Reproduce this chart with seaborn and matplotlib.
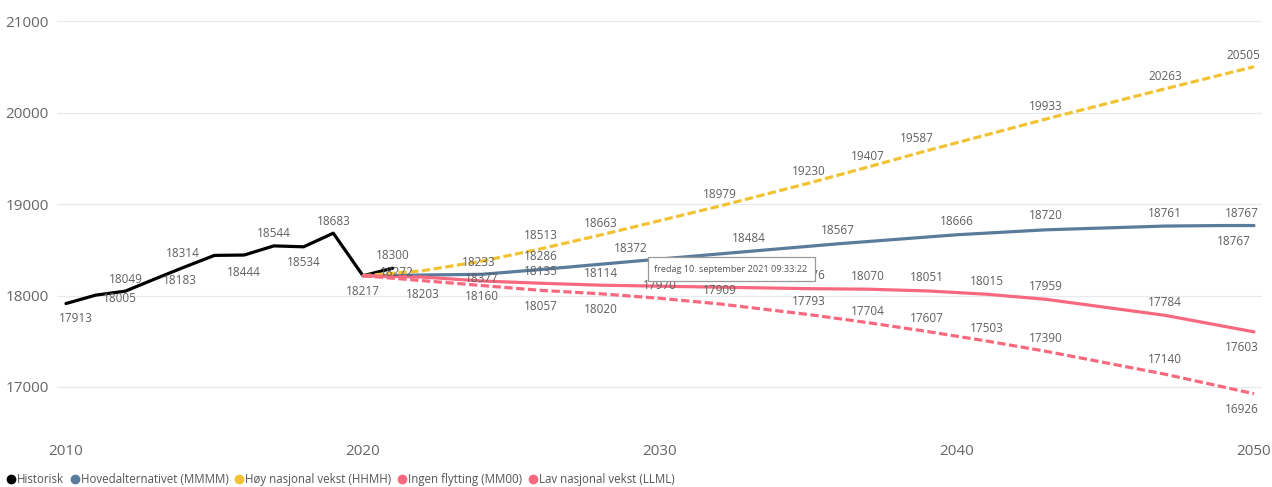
import numpy as np
import pandas as pd
import matplotlib.pyplot as plt
import seaborn as sns
from matplotlib.lines import Line2D
from matplotlib.patches import Rectangle

# Historic values and the four projection alternatives (labelled points only)
hist_years = [2010, 2011, 2012, 2013, 2014, 2015, 2016, 2017, 2018, 2019, 2020, 2021]
hist_vals = [17913, 18005, 18049, 18183, 18314, 18440, 18444, 18544, 18534, 18683, 18217, 18300]

mmmm_years = [2020, 2024, 2026, 2029, 2033, 2036, 2040, 2043, 2047, 2049, 2050]
mmmm_vals = [18217, 18233, 18286, 18372, 18484, 18567, 18666, 18720, 18761, 18767, 18767]

hhmh_years = [2020, 2022, 2024, 2026, 2028, 2032, 2035, 2037, 2039, 2043, 2047, 2050]
hhmh_vals = [18217, 18272, 18377, 18513, 18663, 18979, 19230, 19407, 19587, 19933, 20263, 20505]

mm00_years = [2020, 2022, 2024, 2026, 2028, 2035, 2037, 2039, 2041, 2043, 2047, 2050]
mm00_vals = [18217, 18203, 18160, 18135, 18114, 18076, 18070, 18051, 18015, 17959, 17784, 17603]

llml_years = [2020, 2026, 2028, 2030, 2032, 2035, 2037, 2039, 2041, 2043, 2047, 2050]
llml_vals = [18217, 18057, 18020, 17970, 17909, 17793, 17704, 17607, 17503, 17390, 17140, 16926]

series_names = ['Historisk', 'Hovedalternativet (MMMM)', 'Høy nasjonal vekst (HHMH)',
                'Ingen flytting (MM00)', 'Lav nasjonal vekst (LLML)']
colors = ['#000000', '#5A7B9C', '#F2C233', '#F8687E', '#F8687E']
tooltip_text = 'fredag 10. september 2021 09:33:22'

# label offsets in pixels (dx, dy), only for points that carry a label
label_offsets = {
    'Historisk': {2010: (10, -15), 2011: (24, -3), 2012: (0, 12), 2013: (25, -2), 2014: (-2, 13),
                  2016: (0, -17), 2017: (0, 12), 2018: (0, -16), 2019: (0, 12), 2020: (0, -16), 2021: (0, 13)},
    'Hovedalternativet (MMMM)': {2024: (-3, 12), 2026: (0, 13), 2029: (0, 13), 2033: (0, 13), 2036: (0, 13),
                                 2040: (0, 13), 2043: (0, 14), 2047: (0, 13), 2049: (10, -16), 2050: (-12, 12)},
    'Høy nasjonal vekst (HHMH)': {2022: (-26, -2), 2024: (0, -17), 2026: (0, 13), 2028: (0, 12), 2032: (0, 12),
                                  2035: (0, 12), 2037: (0, 11), 2039: (-10, 12), 2043: (0, 12), 2047: (0, 12),
                                  2050: (-11, 11)},
    'Ingen flytting (MM00)': {2022: (0, -17), 2024: (0, -16), 2026: (0, 12), 2028: (0, 12), 2035: (0, 13),
                              2037: (0, 13), 2039: (0, 13), 2041: (0, 13), 2043: (0, 13), 2047: (0, 13),
                              2050: (-12, -16)},
    'Lav nasjonal vekst (LLML)': {2026: (0, -16), 2028: (0, -16), 2030: (0, 13), 2032: (0, 13), 2035: (0, 13),
                                  2037: (0, 11), 2039: (0, 13), 2041: (0, 13), 2043: (0, 13), 2047: (0, 15),
                                  2050: (-12, -16)},
}

all_years = [hist_years, mmmm_years, hhmh_years, mm00_years, llml_years]
all_vals = [hist_vals, mmmm_vals, hhmh_vals, mm00_vals, llml_vals]

frames = []
for name, yrs, vals in zip(series_names, all_years, all_vals):
    frames.append(pd.DataFrame({'År': yrs, 'Verdi': vals, 'Serie': name}))
df = pd.concat(frames, ignore_index=True)

sns.set_theme(style='white')
plt.rcParams['font.family'] = ['Open Sans', 'DejaVu Sans']

W, H = 1272, 487
fig = plt.figure(figsize=(W / 100, H / 100), dpi=100)
ax = fig.add_axes([57 / W, 1 - 430 / H, (1262 - 57) / W, (430 - 15) / H])

palette = dict(zip(series_names, colors))
dashes = {series_names[0]: '', series_names[1]: '', series_names[2]: (2.6, 1.1),
          series_names[3]: '', series_names[4]: (2.6, 1.1)}

sns.lineplot(data=df, x='År', y='Verdi', hue='Serie', style='Serie', palette=palette,
             dashes=dashes, hue_order=series_names, style_order=series_names,
             estimator=None, linewidth=2.3, legend=False, ax=ax)

# data labels
for name, yrs, vals in zip(series_names, all_years, all_vals):
    offs = label_offsets[name]
    for yr, v in zip(yrs, vals):
        if yr in offs:
            dx, dy = offs[yr]
            ax.annotate(f'{v}', (yr, v), xytext=(dx, dy), textcoords='offset pixels',
                        ha='center', va='center', fontsize=8.5, color='#5F5F5F')

ax.set_xlim(2010 - 9 / 29.7, 2050 + 8 / 29.7)
ax.set_ylim(16529, 21071)
ax.set_xticks([2010, 2020, 2030, 2040, 2050])
ax.set_yticks([17000, 18000, 19000, 20000, 21000])
ax.set_xlabel('')
ax.set_ylabel('')
ax.grid(axis='y', color='#E6E9EE', linewidth=0.9)
ax.grid(axis='x', visible=False)
for s in ax.spines.values():
    s.set_visible(False)
ax.tick_params(axis='both', length=0, labelsize=11, labelcolor='#666666')
ax.tick_params(axis='y', pad=6)
ax.tick_params(axis='x', pad=10)

# tooltip box
fig.add_artist(Rectangle((648 / W, 1 - 281 / H), 167 / W, 24 / H, transform=fig.transFigure,
                         facecolor='white', edgecolor='#9A9A9A', linewidth=0.9, zorder=10))
fig.text(731 / W, 1 - 269 / H, tooltip_text, ha='center', va='center', fontsize=6.6,
         color='#555555', zorder=11)

# legend
handles = [Line2D([], [], marker='o', linestyle='None', color=c, markersize=6) for c in colors]
fig.legend(handles, series_names, loc='lower left', bbox_to_anchor=(-0.003, -0.017), ncol=5,
           frameon=False, fontsize=8.3, handletextpad=0.0, columnspacing=0.45, handlelength=1.0,
           borderpad=0.3, labelcolor='#555555')

fig.savefig('out.png', dpi=100)
